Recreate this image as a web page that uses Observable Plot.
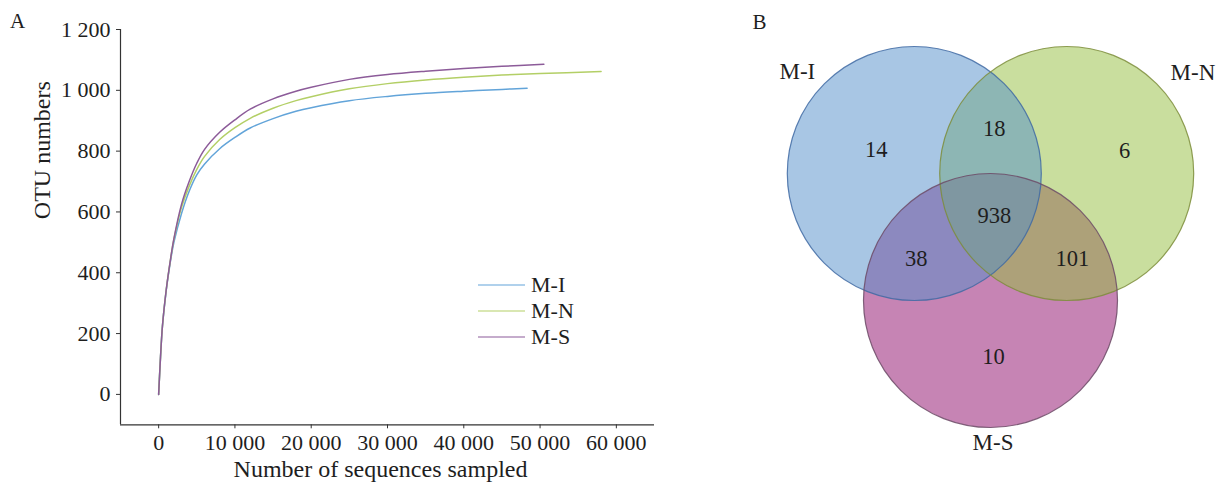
<!DOCTYPE html>
<html><head><meta charset="utf-8">
<script src="https://cdn.jsdelivr.net/npm/d3@7"></script>
<script src="https://cdn.jsdelivr.net/npm/@observablehq/plot@0.6"></script>
<style>
body{margin:0;background:#fff;font-family:"Liberation Serif","Times New Roman",serif;color:#1e1e1e;}
#wrap{position:relative;width:1226px;height:483px;overflow:hidden;}
#left{position:absolute;left:0;top:0;}
#right{position:absolute;left:720px;top:0;}
.panel{position:absolute;font-size:21px;line-height:1;}
#legend{position:absolute;left:478px;top:272.5px;font-size:22px;}
.row{display:flex;align-items:center;height:25.7px;}
.row svg{margin-right:6px;}
</style></head><body>
<div id="wrap">
  <div id="left"></div><div id="right"></div>
  <div class="panel" style="left:10px;top:11.4px">A</div>
  <div class="panel" style="left:752.5px;top:12.4px">B</div>
  <div id="legend"></div>
</div>
<script>
// ---------- data ----------
const seriesNames = ["M-I", "M-N", "M-S"];
const seriesColors = ["#62a4d9", "#b3cf66", "#8c5b99"];

const samplesMI = [0,250,500,1000,1500,2000,3000,4000,5000,6000,8000,10000,12000,15000,18000,20000,25000,30000,35000,40000,45000,48300];
const otuMI     = [0,125,225,343,430,500,595,668,722,757,808,845,876,907,931,943,966,980,990,997,1003,1007];

const samplesMN = [0,250,500,1000,1500,2000,3000,4000,5000,6000,8000,10000,12000,15000,18000,20000,25000,30000,35000,40000,45000,50000,58000];
const otuMN     = [0,125,225,345,435,510,615,685,740,782,838,877,908,941,966,979,1005,1022,1034,1043,1050,1055,1062];

const samplesMS = [0,250,500,1000,1500,2000,3000,4000,5000,6000,8000,10000,12000,15000,18000,20000,25000,30000,35000,40000,45000,50500];
const otuMS     = [0,125,225,345,435,512,625,700,760,805,862,903,938,972,997,1010,1036,1052,1063,1072,1079,1086];

const xTicks = [0,10000,20000,30000,40000,50000,60000];
const yTicks = [0,200,400,600,800,1000,1200];

const vennSets    = ["M-I", "M-N", "M-S"];
const vennFills   = ["#518dc9", "#93bd3d", "#8d0969"];
const vennStrokes = ["#3f6aa3", "#7d8d3a", "#6c4a66"];
const onlyCounts = [14, 6, 10];          // M-I only, M-N only, M-S only
const pairCounts = [18, 38, 101];        // M-I∩M-N, M-I∩M-S, M-N∩M-S
const allCount = 938;

// ---------- left: rarefaction curves ----------
const sampleArrays = [samplesMI, samplesMN, samplesMS];
const otuArrays = [otuMI, otuMN, otuMS];
const rows = [];
seriesNames.forEach((s, i) => sampleArrays[i].forEach((x, j) => rows.push({series: s, x, y: otuArrays[i][j]})));
const fmt = d => d3.format(",")(d).replace(/,/g, " ");

const left = Plot.plot({
  width: 720, height: 483,
  marginLeft: 120, marginRight: 66, marginTop: 29, marginBottom: 58.7,
  style: {fontFamily: "Liberation Serif, serif", fontSize: "22px", color: "#1e1e1e", background: "transparent", overflow: "visible"},
  x: {domain: [-5000, 65000]},
  y: {domain: [-100, 1200]},
  color: {domain: seriesNames, range: seriesColors},
  marks: [
    Plot.axisX({ticks: xTicks, tickFormat: fmt, tickSize: 4, tickPadding: 6, label: null, stroke: "#333"}),
    Plot.axisY({ticks: yTicks, tickFormat: fmt, tickSize: 4, tickPadding: 6, label: null, stroke: "#333"}),
    Plot.ruleX([-5000], {stroke: "#333", strokeWidth: 1.2}),
    Plot.ruleY([-100], {stroke: "#333", strokeWidth: 1.2}),
    Plot.line(rows, {x: "x", y: "y", z: "series", stroke: "series", strokeWidth: 1.5, curve: "catmull-rom"}),
    Plot.text(["OTU numbers"], {frameAnchor: "left", lineAnchor: "middle", rotate: -90, dx: -78, dy: -8, fontSize: 24}),
    Plot.text(["Number of sequences sampled"], {frameAnchor: "bottom", lineAnchor: "middle", dx: -7, dy: 45, fontSize: 24})
  ]
});
document.getElementById("left").appendChild(left);

// legend
const legend = document.getElementById("legend");
seriesNames.forEach((s, i) => {
  const row = document.createElement("div");
  row.className = "row";
  row.innerHTML = `<svg width="47" height="4"><line x1="0" x2="47" y1="2" y2="2" stroke="${seriesColors[i]}" stroke-width="1.2"/></svg><span>${s}</span>`;
  legend.appendChild(row);
});

// ---------- right: Venn diagram ----------
const U = 127;               // pixels per circle radius
const W = 506, H = 483;
const ox = 270, oy = 173;    // pixel origin of the layout
const half = 0.6, drop = 1.0;
const centers = [[-half, 0], [half, 0], [0, -drop]];
const G = [0, -drop / 3];
const circles = vennSets.map((name, i) => ({name, cx: centers[i][0], cy: centers[i][1], fill: vennFills[i], stroke: vennStrokes[i]}));

const polar = ([cx, cy], ang, dist) => {
  const t = ang * Math.PI / 180;
  return [cx + dist * Math.cos(t), cy + dist * Math.sin(t)];
};

const regionLabels = [];
const onlyPolar = [[147.6, 0.355], [21.5, 0.49], [-87, 0.44]];
onlyCounts.forEach((v, i) => {
  const [x, y] = polar(centers[i], ...onlyPolar[i]);
  regionLabels.push({v, x, y});
});
const pairs = [[0, 1], [0, 2], [1, 2]];
pairCounts.forEach((v, i) => {
  const [a, b] = pairs[i];
  const mx = (centers[a][0] + centers[b][0]) / 2, my = (centers[a][1] + centers[b][1]) / 2;
  const k = 1.05;
  regionLabels.push({v, x: mx + k * (mx - G[0]) + 0.03, y: my + k * (my - G[1])});
});
regionLabels.push({v: allCount, x: G[0] + 0.03, y: G[1]});

const setLabelPolar = [[139, 1.22], [38.5, 1.27], [-89, 1.12]];
const setLabels = vennSets.map((name, i) => {
  const [x, y] = polar(centers[i], ...setLabelPolar[i]);
  return {name, x, y};
});

const right = Plot.plot({
  width: W, height: H,
  margin: 0,
  style: {fontFamily: "Liberation Serif, serif", fontSize: "22px", color: "#1e1e1e", background: "transparent", overflow: "visible"},
  x: {domain: [-ox / U, (W - ox) / U], axis: null},
  y: {domain: [-(H - oy) / U, oy / U], axis: null},
  color: {type: "identity"},
  marks: [
    Plot.dot(circles.slice().reverse(), {x: "cx", y: "cy", r: U, fill: "fill", fillOpacity: 0.5, stroke: null}),
    Plot.dot(circles, {x: "cx", y: "cy", r: U, fill: "none", stroke: "stroke", strokeWidth: 1.2, strokeOpacity: 0.85}),
    Plot.text(regionLabels, {x: "x", y: "y", text: "v", fontSize: 22.5, fill: "#1e1e1e"}),
    Plot.text(setLabels, {x: "x", y: "y", text: "name", fontSize: 23, fill: "#1e1e1e"})
  ]
});
document.getElementById("right").appendChild(right);
</script>
</body></html>
